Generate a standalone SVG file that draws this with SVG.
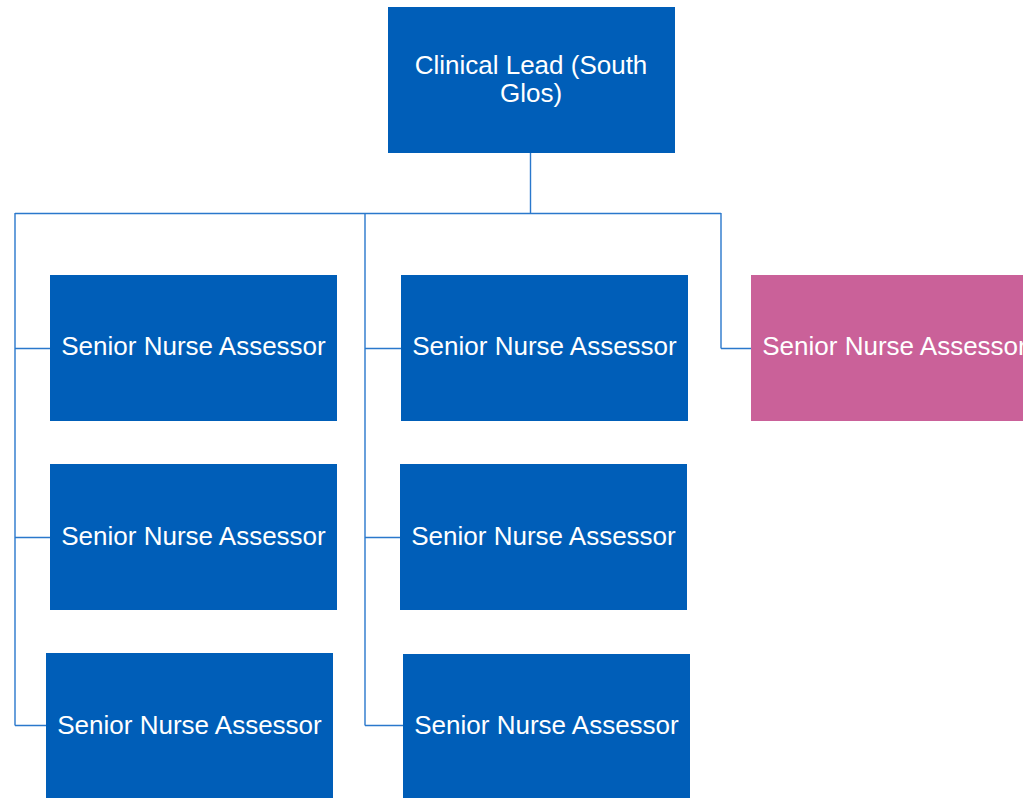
<svg xmlns="http://www.w3.org/2000/svg" width="1023" height="798" viewBox="0 0 1023 798">
<style>
.box{fill:#005EB8}
.pink{fill:#CA6199}
.t{font-family:"Liberation Sans",Arial,sans-serif;font-size:26px;fill:#FFFFFF;text-anchor:middle}
.c{fill:none;stroke:#2A78CC;stroke-width:1.4}
</style>
<rect width="1023" height="798" fill="#FFFFFF"/>
<g id="connectors">
<path class="c" d="M530.5 153V213.5M15 213.5H721M15 213V725.5M365 213V725.5M721 213V348.5"/>
<path class="c" d="M15 348.5H50M15 537.5H50M15 725.5H46M365 348.5H401M365 537.5H400M365 725.5H403M721 348.5H751"/>
</g>
<g id="clinical-lead">
<rect class="box" x="388" y="7" width="287" height="146"/>
<text class="t" x="531" y="74">Clinical Lead (South</text>
<text class="t" x="531" y="102">Glos)</text>
</g>
<g id="sna-1">
<rect class="box" x="50" y="275" width="287" height="146"/>
<text class="t" x="193.5" y="355">Senior Nurse Assessor</text>
</g>
<g id="sna-2">
<rect class="box" x="50" y="464" width="287" height="146"/>
<text class="t" x="193.5" y="545">Senior Nurse Assessor</text>
</g>
<g id="sna-3">
<rect class="box" x="46" y="653" width="287" height="146"/>
<text class="t" x="189.5" y="734">Senior Nurse Assessor</text>
</g>
<g id="sna-4">
<rect class="box" x="401" y="275" width="287" height="146"/>
<text class="t" x="544.5" y="355">Senior Nurse Assessor</text>
</g>
<g id="sna-5">
<rect class="box" x="400" y="464" width="287" height="146"/>
<text class="t" x="543.5" y="545">Senior Nurse Assessor</text>
</g>
<g id="sna-6">
<rect class="box" x="403" y="654" width="287" height="145"/>
<text class="t" x="546.5" y="734">Senior Nurse Assessor</text>
</g>
<g id="sna-7">
<rect class="pink" x="751" y="275" width="287" height="146"/>
<text class="t" x="894.5" y="355">Senior Nurse Assessor</text>
</g>
</svg>
